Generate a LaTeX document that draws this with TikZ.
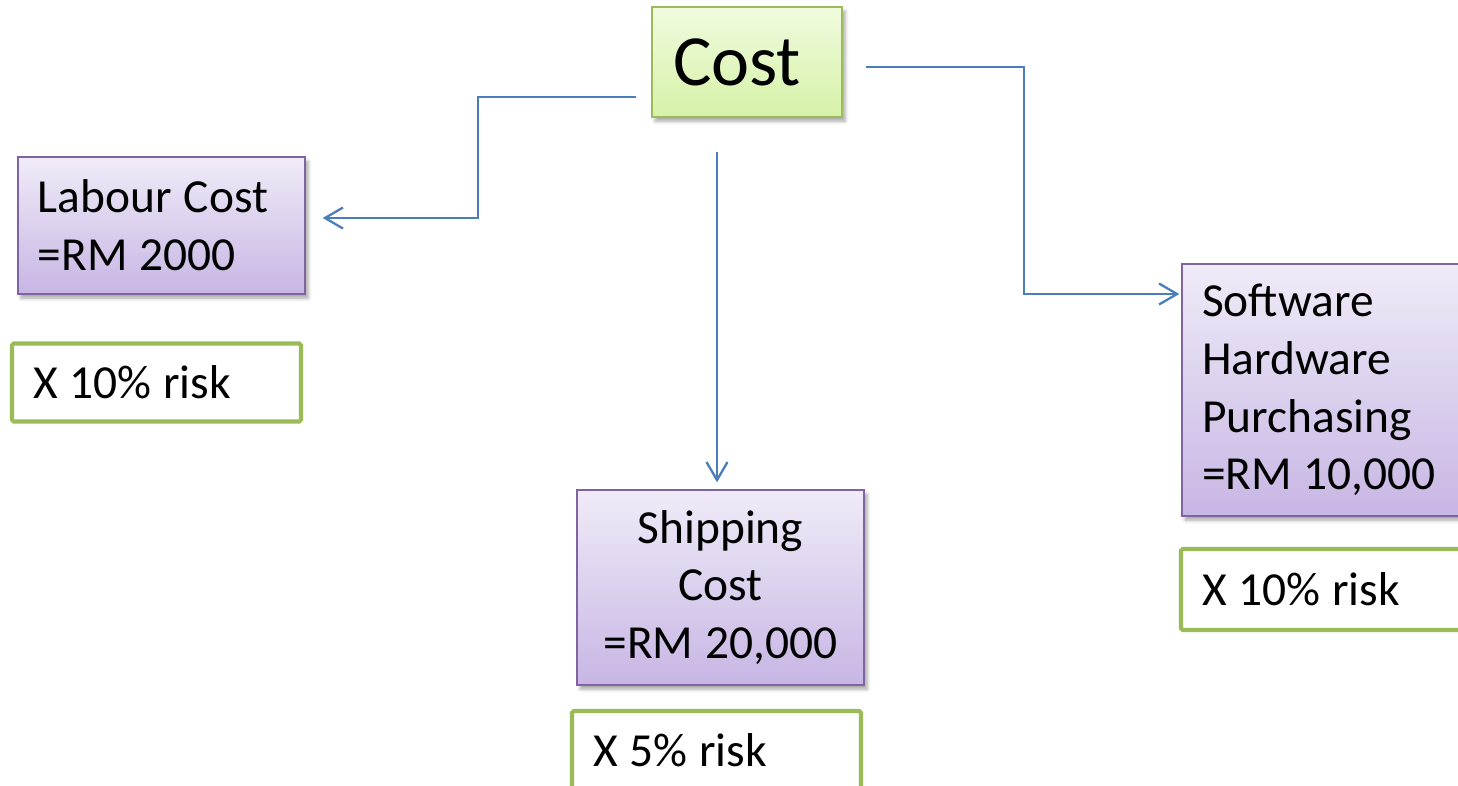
\documentclass[tikz,border=0pt]{standalone}
\usepackage{fontspec}
\setmainfont{Carlito}
\usepackage{tikz}
\usetikzlibrary{arrows.meta}
\usetikzlibrary{positioning,shadows.blur}

\definecolor{costtop}{RGB}{241,251,222}
\definecolor{costbot}{RGB}{214,242,168}
\definecolor{costline}{RGB}{155,187,89}
\definecolor{itemtop}{RGB}{240,235,248}
\definecolor{itembot}{RGB}{199,182,228}
\definecolor{itemline}{RGB}{128,100,162}
\definecolor{arrowblue}{RGB}{74,126,187}
\newcommand{\bodyfont}[0]{\fontsize{27}{32.9}\selectfont}

\begin{document}
\begin{tikzpicture}[execute at begin node={\spaceskip=0.25em\relax}]
\tikzstyle{costbox} = [rectangle, minimum width=3.8cm, minimum height=2.2cm, inner xsep=0.42cm, text width=2.96cm, align=left, draw=costline, line width=0.8pt, top color=costtop, bottom color=costbot, font=\fontsize{41}{50}\selectfont, blur shadow={shadow xshift=0.06cm, shadow yshift=-0.08cm, shadow blur radius=0.07cm, shadow opacity=35}]
\tikzstyle{item} = [rectangle, minimum width=5.74cm, inner xsep=0.4cm, text width=4.94cm, draw=itemline, line width=0.8pt, top color=itemtop, bottom color=itembot, font=\bodyfont, blur shadow={shadow xshift=0.06cm, shadow yshift=-0.08cm, shadow blur radius=0.07cm, shadow opacity=35}]
\tikzstyle{risk} = [rectangle, rounded corners=1pt, minimum width=5.78cm, minimum height=1.56cm, inner xsep=0.42cm, text width=4.94cm, align=left, draw=costline, line width=2.3pt, fill=white, font=\bodyfont]

\tikzstyle{arrow} = [line width=1.3pt, draw=arrowblue, -{Straight Barb[length=0.36cm, width=0.42cm]}]

\useasboundingbox (0,0) rectangle (29.16,-15.7);
\clip (0,0) rectangle (29.16,-15.7);

\node (cost) [costbox] at (14.94,-1.24) {Cost};

\node (labour) [item, minimum height=2.74cm, align=left] at (3.23,-4.51) {Labour Cost\\=RM 2000};
\node (shipping) [item, minimum height=3.9cm, align=center] at (14.41,-11.75) {Shipping\\Cost\\=RM 20,000};
\node (software) [item, minimum height=5.04cm, align=left] at (26.51,-7.8) {Software\\Hardware\\Purchasing\\=RM 10,000};

\node (risk1) [risk, below of=labour, xshift=-0.1cm, yshift=-2.14cm] {X 10\% risk};
\node (risk2) [risk, below of=shipping, xshift=-0.08cm, yshift=-2.25cm] {X 5\% risk};
\node (risk3) [risk, below of=software, yshift=-2.99cm, minimum height=1.62cm] {X 10\% risk};

\coordinate (topmid) at ([xshift=-0.6cm,yshift=-0.68cm]cost.south);

\draw [arrow] ([xshift=-0.3cm,yshift=-0.7cm]cost.west) -- ++(-3.16,0) |- ([xshift=0.34cm,yshift=0.15cm]labour.east);
\draw [arrow, shorten >=0.14cm] (topmid) -- (topmid |- shipping.north);
\draw [arrow] ([xshift=0.46cm,yshift=-0.1cm]cost.east) -- ++(3.16,0) |- ([xshift=-0.04cm,yshift=1.92cm]software.west);

\end{tikzpicture}
\end{document}
